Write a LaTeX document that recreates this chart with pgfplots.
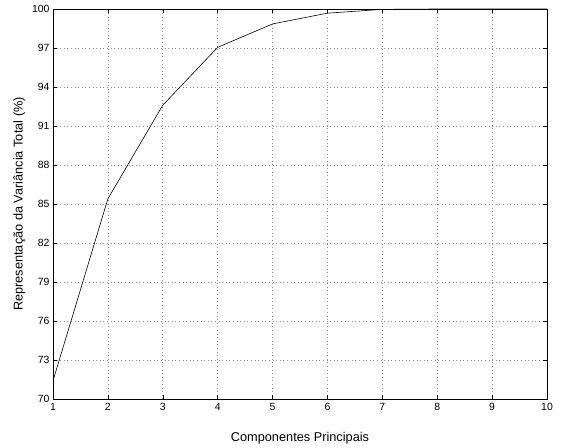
\documentclass[border=0pt]{standalone}
\usepackage{fontspec}
\setmainfont{Liberation Sans}
\usepackage{pgfplots}
\pgfplotsset{compat=1.18}

\begin{document}
\begin{tikzpicture}
\begin{axis}[
    scale only axis,
    width=494bp, height=390bp,
    xmin=1, xmax=10,
    ymin=70, ymax=100,
    xtick={1,...,10},
    ytick={70,73,...,100},
    grid=major,
    major grid style={dash pattern=on 0.6bp off 3bp, gray!90, line width=0.6bp},
    tick align=inside,
    major tick length=4bp,
    axis line style={line width=0.8bp},
    every tick/.style={black, line width=0.5bp},
    tick label style={font=\fontsize{10.5}{12}\selectfont},
    label style={font=\fontsize{12.8}{14}\selectfont},
    /pgf/number format/assume math mode=true,
    xticklabel style={yshift=-1bp},
    xlabel={Componentes Principais},
    ylabel={Representação da Variância Total (\%)},
    xlabel style={at={(axis description cs:0.5,-0.1)}, anchor=center},
    ylabel style={at={(axis description cs:-0.068,0.5)}, anchor=center},
]
\addplot[black, line width=0.6bp] coordinates {
    (1,71.4) (2,85.4) (3,92.6) (4,97.05) (5,98.85) (6,99.68) (7,99.97) (8,100) (9,100) (10,100)
};
\end{axis}
\path ([shift={(-53bp,-46bp)}]current axis.south west) rectangle ([shift={(20bp,9bp)}]current axis.north east);
\end{tikzpicture}
\end{document}
